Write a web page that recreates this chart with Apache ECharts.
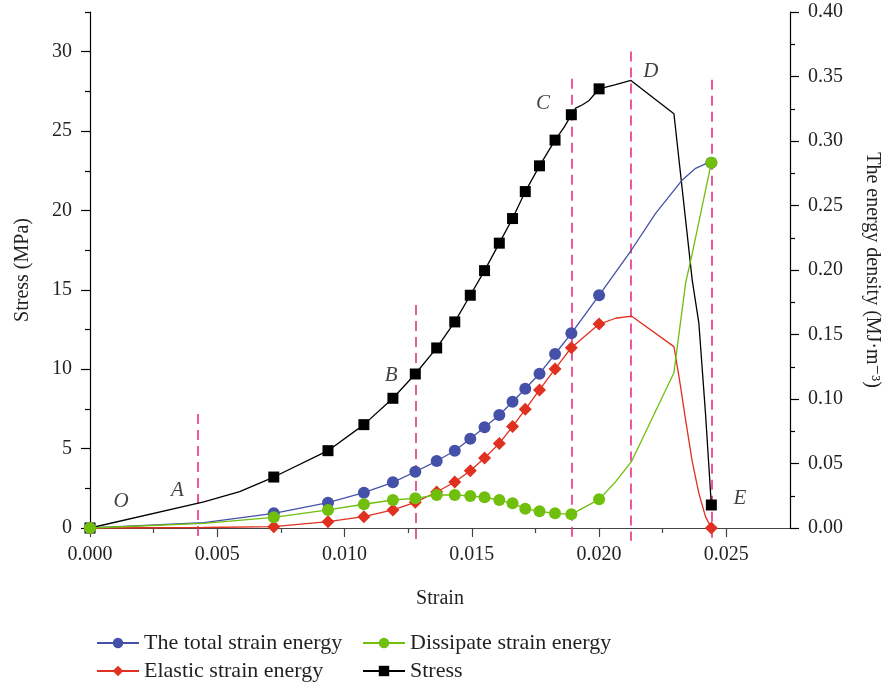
<!DOCTYPE html>
<html><head><meta charset="utf-8">
<script src="https://cdn.jsdelivr.net/npm/echarts@6/dist/echarts.min.js"></script>
<style>html,body{margin:0;padding:0;background:#fff}#c{width:885px;height:684px}</style>
</head><body><div id="c"></div>
<script>
// ---- tick values ----
const strainTicks = [0, 0.005, 0.010, 0.015, 0.020, 0.025];
const strainMinorTicks = [0.0025, 0.0075, 0.0125, 0.0175, 0.0225];
const stressTicks = [0, 5, 10, 15, 20, 25, 30];
const stressMinorTicks = [2.5, 7.5, 12.5, 17.5, 22.5, 27.5, 32.5];

// strains where a marker is drawn
const markerStrain = [0, 0.00722, 0.00935, 0.01076, 0.0119, 0.01278, 0.01362, 0.01433, 0.01494,
  0.0155, 0.01608, 0.0166, 0.0171, 0.01766, 0.01827, 0.01891, 0.0200, 0.02441];

// ---- Stress (MPa) ----
const stressStrain = [0, 0.00447, 0.00588, 0.00722, 0.00935, 0.01076, 0.0119, 0.01278, 0.01362, 0.01433,
  0.01494, 0.0155, 0.01608, 0.0166, 0.0171, 0.01766, 0.01827, 0.01863, 0.01891, 0.01908, 0.01935,
  0.01961, 0.0198, 0.0200, 0.02065, 0.02125, 0.02294, 0.02366, 0.02392, 0.02418, 0.02441];
const stressValues = [0, 1.64, 2.29, 3.21, 4.87, 6.51, 8.17, 9.70, 11.34, 12.98,
  14.66, 16.21, 17.94, 19.49, 21.19, 22.81, 24.43, 25.25, 26.03, 26.45, 26.66,
  26.93, 27.29, 27.66, 27.92, 28.19, 26.09, 15.6, 12.9, 7.23, 1.45];

// ---- The total strain energy (MJ/m3) ----
const totalStrain = [0, 0.00447, 0.00722, 0.00935, 0.01076, 0.0119, 0.01278, 0.01362, 0.01433, 0.01494,
  0.0155, 0.01608, 0.0166, 0.0171, 0.01766, 0.01827, 0.01891, 0.0200, 0.02127, 0.02222, 0.02327,
  0.02379, 0.02418, 0.02441];
const totalValues = [0, 0.0041, 0.0114, 0.0196, 0.0274, 0.0354, 0.0436, 0.0519, 0.0599, 0.0692,
  0.0781, 0.0876, 0.0979, 0.1080, 0.1196, 0.1349, 0.1509, 0.1804, 0.2155, 0.2439, 0.2698,
  0.2788, 0.2822, 0.2832];

// ---- Elastic strain energy ----
const elasticStrain = [0, 0.00447, 0.00722, 0.00935, 0.01076, 0.0119, 0.01278, 0.01362, 0.01433, 0.01494,
  0.0155, 0.01608, 0.0166, 0.0171, 0.01766, 0.01827, 0.01891, 0.0200, 0.02065, 0.02127, 0.02294,
  0.02314, 0.0234, 0.02366, 0.02392, 0.02418, 0.02441];
const elasticValues = [0, 0.0004, 0.0010, 0.0049, 0.0088, 0.0140, 0.0199, 0.0279, 0.0357, 0.0444,
  0.0543, 0.0656, 0.0786, 0.0920, 0.1070, 0.1233, 0.1398, 0.1581, 0.1626, 0.1643, 0.1406,
  0.1173, 0.0837, 0.0514, 0.0269, 0.0088, 0.0];

// ---- Dissipate strain energy ----
const dissipateStrain = [0, 0.00447, 0.00722, 0.00935, 0.01076, 0.0119, 0.01278, 0.01362, 0.01433, 0.01494,
  0.0155, 0.01608, 0.0166, 0.0171, 0.01766, 0.01827, 0.01891, 0.0200, 0.02065, 0.02127, 0.02294,
  0.0234, 0.02366, 0.02441];
const dissipateValues = [0, 0.0036, 0.0083, 0.0140, 0.0184, 0.0217, 0.0230, 0.0256, 0.0256, 0.0248,
  0.0238, 0.0217, 0.0191, 0.0150, 0.0129, 0.0114, 0.0106, 0.0222, 0.0359, 0.0514, 0.1204,
  0.1900, 0.2129, 0.2832];

// ---- phase boundaries (dashed lines) and letters ----
const phaseLineStrain = [0.00425, 0.01278, 0.01891, 0.02125, 0.02441];
const phaseLineTop = [7.18, 14.05, 28.29, 30.01, 28.23];
const phaseLineBottom = -0.8;
const phaseLetters = ['O', 'A', 'B', 'C', 'D', 'E'];
const letterStrain = [0.00122, 0.00343, 0.01183, 0.0178, 0.02203, 0.02553];
const letterStress = [1.70, 2.39, 9.61, 26.72, 28.73, 1.83];

const FONT = "'Liberation Serif','DejaVu Serif','Times New Roman',serif";
const TXT = '#231f20';

function build(xs, ys) {
  return xs.map((x, i) => {
    const item = { value: [x, ys[i]] };
    if (!markerStrain.includes(x)) item.symbol = 'none';
    return item;
  });
}

const chart = echarts.init(document.getElementById('c'), null, { renderer: 'canvas' });

const lineBase = { type: 'line', smooth: false, showSymbol: true, clip: false,
  emphasis: { disabled: true }, silent: true };

const legendBase = { orient: 'vertical', top: 632, padding: 0, itemWidth: 42, itemHeight: 13, itemGap: 6,
  selectedMode: false, textStyle: { fontFamily: FONT, fontSize: 22, color: TXT } };

chart.setOption({
  animation: false,
  backgroundColor: '#fff',
  grid: { left: 90, right: 95, top: 12, bottom: 156, containLabel: false, outerBoundsMode: 'none' },
  xAxis: [{
    type: 'value', position: 'bottom', min: 0, max: 0.0275,
    name: 'Strain', nameLocation: 'middle', nameGap: 61,
    nameTextStyle: { fontFamily: FONT, fontSize: 20, color: TXT },
    axisLine: { show: true, onZero: false, lineStyle: { color: '#444', width: 1.2 } },
    axisTick: { show: true, inside: false, length: 9, customValues: strainTicks, lineStyle: { color: '#444', width: 1.2 } },
    axisLabel: { customValues: strainTicks, formatter: v => v.toFixed(3), margin: 17, fontFamily: FONT, fontSize: 20, color: TXT },
    splitLine: { show: false }
  }, {
    type: 'value', position: 'bottom', min: 0, max: 0.0275,
    axisLine: { show: false, onZero: false },
    axisTick: { show: true, inside: false, length: 5, customValues: strainMinorTicks, lineStyle: { color: '#444', width: 1.2 } },
    axisLabel: { show: false }, splitLine: { show: false }
  }],
  yAxis: [{
    type: 'value', position: 'left', min: 0, max: 32.5, interval: 2.5,
    name: 'Stress (MPa)', nameLocation: 'middle', nameGap: 57, nameRotate: 90,
    nameTextStyle: { fontFamily: FONT, fontSize: 20, color: TXT },
    axisLine: { show: true, onZero: false, lineStyle: { color: '#000', width: 1.2 } },
    axisTick: { show: true, inside: false, length: 9, customValues: stressTicks, lineStyle: { color: '#000', width: 1.2 } },
    axisLabel: { customValues: stressTicks, margin: 18, fontFamily: FONT, fontSize: 20, color: TXT },
    splitLine: { show: false }
  }, {
    type: 'value', position: 'right', min: 0, max: 0.4, interval: 0.05,
    name: 'The energy density (MJ·m⁻³)', nameLocation: 'middle', nameGap: 72, nameRotate: -90,
    nameTextStyle: { fontFamily: FONT, fontSize: 20, color: TXT },
    axisLine: { show: true, onZero: false, lineStyle: { color: '#000', width: 1.2 } },
    axisTick: { show: true, inside: false, length: 9, lineStyle: { color: '#000', width: 1.2 } },
    minorTick: { show: true, splitNumber: 2, length: 5, lineStyle: { color: '#000', width: 1.2 } },
    axisLabel: { formatter: v => v.toFixed(2), margin: 18, fontFamily: FONT, fontSize: 20, color: TXT },
    splitLine: { show: false }, minorSplitLine: { show: false }
  }, {
    type: 'value', position: 'left', min: 0, max: 32.5, interval: 2.5,
    axisLine: { show: false, onZero: false },
    axisTick: { show: true, inside: false, length: 5, customValues: stressMinorTicks, lineStyle: { color: '#000', width: 1.2 } },
    axisLabel: { show: false }, splitLine: { show: false }
  }],
  legend: [
    Object.assign({}, legendBase, { left: 96, data: ['The total strain energy', 'Elastic strain energy'] }),
    Object.assign({}, legendBase, { left: 362, data: ['Dissipate strain energy', 'Stress'] })
  ],
  series: [
    {
      name: 'phase', type: 'lines', coordinateSystem: 'cartesian2d', xAxisIndex: 0, yAxisIndex: 0,
      clip: false, silent: true, z: 1,
      lineStyle: { color: '#e8237f', width: 1.5, type: [10, 6], opacity: 1 },
      data: phaseLineStrain.map((x, i) => ({ coords: [[x, phaseLineTop[i]], [x, phaseLineBottom]] }))
    },
    Object.assign({}, lineBase, {
      name: 'Stress', yAxisIndex: 0, z: 3,
      data: build(stressStrain, stressValues),
      symbol: 'rect', symbolSize: 11,
      itemStyle: { color: '#000' }, lineStyle: { color: '#000', width: 1.3 }
    }),
    Object.assign({}, lineBase, {
      name: 'The total strain energy', yAxisIndex: 1, z: 4,
      data: build(totalStrain, totalValues),
      symbol: 'circle', symbolSize: 12,
      itemStyle: { color: '#4551a8' }, lineStyle: { color: '#4551a8', width: 1.3 }
    }),
    Object.assign({}, lineBase, {
      name: 'Elastic strain energy', yAxisIndex: 1, z: 5,
      data: build(elasticStrain, elasticValues),
      symbol: 'diamond', symbolSize: 13,
      itemStyle: { color: '#e0301f' }, lineStyle: { color: '#e0301f', width: 1.3 }
    }),
    Object.assign({}, lineBase, {
      name: 'Dissipate strain energy', yAxisIndex: 1, z: 6,
      data: build(dissipateStrain, dissipateValues),
      symbol: 'circle', symbolSize: 12,
      itemStyle: { color: '#6fbf0c' }, lineStyle: { color: '#6fbf0c', width: 1.3 }
    }),
    {
      name: 'letters', type: 'scatter', yAxisIndex: 0, symbolSize: 0, silent: true, z: 7, clip: false,
      itemStyle: { color: 'transparent' },
      data: phaseLetters.map((t, i) => ({ name: t, value: [letterStrain[i], letterStress[i]] })),
      label: { show: true, position: 'inside', formatter: p => p.name,
        fontFamily: FONT, fontSize: 21, fontStyle: 'italic', color: '#111',
        textBorderWidth: 0, textBorderColor: 'transparent' }
    }
  ]
});
</script></body></html>
